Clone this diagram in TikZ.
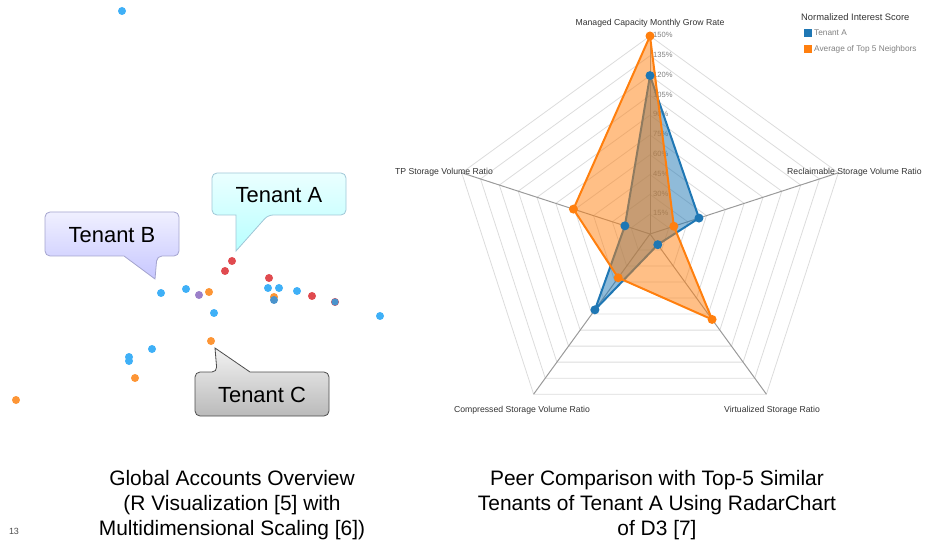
\documentclass[tikz,border=0pt]{standalone}
\usepackage{fontspec}
\setmainfont{Liberation Sans}
\usetikzlibrary{calc}

\definecolor{ptblue}{HTML}{3FB0F7}
\definecolor{ptred}{HTML}{E04A4F}
\definecolor{ptorange}{HTML}{FD9535}
\definecolor{ptpurple}{HTML}{9B80C9}
\definecolor{ptdark}{HTML}{4A93CC}
\definecolor{seriesA}{HTML}{1F77B4}
\definecolor{seriesB}{HTML}{FF7F0E}
\definecolor{gridgray}{HTML}{DCDCDC}
\definecolor{axisgray}{HTML}{9A9A9A}
\definecolor{lblgray}{HTML}{333333}
\definecolor{tickgray}{HTML}{808080}

\tikzset{
  gridline/.style={gridgray, line width=0.8bp},
  axisline/.style={axisgray, line width=1bp},
  axislbl/.style={lblgray, inner sep=0pt, font=\fontsize{8.7}{10}\selectfont},
  ticklbl/.style={tickgray, inner sep=0pt, anchor=west, font=\fontsize{7.6}{9}\selectfont},
  seriespoly/.style={#1, fill=#1, fill opacity=0.5, line width=2bp, line join=round},
  tenanttext/.style={inner sep=0pt, font=\fontsize{22}{26}\selectfont},
  caption/.style={align=center, inner sep=0pt, font=\fontsize{21}{25}\selectfont}
}

\begin{document}
\begin{tikzpicture}[x=1bp, y=-1bp]
\useasboundingbox (0,0) rectangle (927,557);

\fill[ptblue] (122,11) circle (4);
\fill[ptblue] (161,293) circle (4);
\fill[ptblue] (186,289) circle (4);
\fill[ptblue] (268,288) circle (4);
\fill[ptblue] (279,288) circle (4);
\fill[ptblue] (297,291) circle (4);
\fill[ptblue] (214,313) circle (4);
\fill[ptblue] (380,316) circle (4);
\fill[ptblue] (152,349) circle (4);
\fill[ptblue] (129,357) circle (4);
\fill[ptblue] (129,361) circle (4);
\fill[ptred] (232,261) circle (4);
\fill[ptred] (225,271) circle (4);
\fill[ptred] (269,278) circle (4);
\fill[ptred] (312,296) circle (4);
\fill[ptred] (335,302) circle (4);
\fill[ptorange] (209,292) circle (4);
\fill[ptorange] (274,297) circle (4);
\fill[ptorange] (211,341) circle (4);
\fill[ptorange] (135,378) circle (4);
\fill[ptorange] (16,400) circle (4);
\fill[ptpurple] (199,295) circle (4);
\fill[ptdark] (274,300) circle (4);
\fill[ptdark] (335,302) circle (3.6);

\draw[draw=cyan!45!gray!60, top color=cyan!8, bottom color=cyan!28, line width=0.8bp, rounded corners=5bp]
  (279,173) -- (346,173) -- (346,215) -- (268,215) [sharp corners] -- (236,251) -- (236,215)
  [rounded corners=5bp] -- (212,215) -- (212,173) -- cycle;
\draw[draw=blue!30!gray!55, top color=blue!6, bottom color=blue!22, line width=0.8bp, rounded corners=5bp]
  (112,212) -- (179,212) -- (179,256) -- (157,256) [sharp corners] -- (155,279) -- (124,256)
  [rounded corners=5bp] -- (45,256) -- (45,212) -- cycle;
\draw[draw=black!70, top color=black!5, bottom color=black!27, line width=0.8bp, rounded corners=5bp]
  (262,416) -- (195,416) -- (195,372) -- (217,372) [sharp corners] -- (215,348) -- (250,372)
  [rounded corners=5bp] -- (329,372) -- (329,416) -- cycle;
\path (279,195) node[tenanttext] (tenA) {Tenant A}
      (112,235) node[tenanttext] (tenB) {Tenant B}
      (262,395) node[tenanttext] (tenC) {Tenant C};

\begin{scope}[shift={(650,234)}]
\coordinate (ctr) at (0,0);
\foreach \i in {1,...,10}
  \draw[gridline] (-90:19.8*\i) -- (-18:19.8*\i) -- (54:19.8*\i) -- (126:19.8*\i) -- (198:19.8*\i) -- cycle;
\foreach \ang [count=\k] in {-90,-18,54,126,198}
  \draw[axisline] (ctr) -- (\ang:198) coordinate (ax\k);
\foreach \i [evaluate=\i as \pct using int(15*\i)] in {1,...,10}
  \node[ticklbl] at (3,-19.8*\i-1) {\pct\%};
\foreach \ang/\val [count=\k] in {-90/120, -18/39, 54/10, 126/71, 198/20}
  \coordinate (a\k) at (\ang:1.32*\val);
\foreach \ang/\val [count=\k] in {-90/150, -18/19, 54/80, 126/41, 198/61}
  \coordinate (b\k) at (\ang:1.32*\val);
\draw[seriespoly=seriesA] (a1) -- (a2) -- (a3) -- (a4) -- (a5) -- cycle;
\draw[seriespoly=seriesB] (b1) -- (b2) -- (b3) -- (b4) -- (b5) -- cycle;
\foreach \k in {1,...,5} \fill[seriesA] (a\k) circle (4.5);
\foreach \k in {1,...,5} \fill[seriesB] (b\k) circle (4.5);
\end{scope}

\path (650,23) node[axislbl] (lblgrow) {Managed Capacity Monthly Grow Rate}
      (787,172) node[axislbl, anchor=west] (lblreclaim) {Reclaimable Storage Volume Ratio}
      (772,410) node[axislbl] (lblvirt) {Virtualized Storage Ratio}
      (522,410) node[axislbl] (lblcomp) {Compressed Storage Volume Ratio}
      (444,172) node[axislbl] (lbltp) {TP Storage Volume Ratio};

\node[lblgray, anchor=west, inner sep=0pt, font=\fontsize{9.4}{11}\selectfont] (legtitle) at (801,17) {Normalized Interest Score};
\fill[seriesA] (804,29) rectangle (812,37);
\fill[seriesB] (804,45) rectangle (812,53);
\path (814,33) node[ticklbl, font=\fontsize{8.3}{10}\selectfont] (legA) {Tenant A}
      (814,49) node[ticklbl, font=\fontsize{8.3}{10}\selectfont] (legB) {Average of Top 5 Neighbors};

\node[caption] (capleft) at (232,505) {Global Accounts Overview\\(R Visualization [5] with\\Multidimensional Scaling [6])};
\node[caption] (capright) at (657,505) {Peer Comparison with Top-5 Similar\\Tenants of Tenant A Using RadarChart\\of D3 [7]};
\node[black!70, inner sep=0pt, font=\fontsize{9}{10}\selectfont] (pagenum) at (14,531) {13};
\end{tikzpicture}
\end{document}
